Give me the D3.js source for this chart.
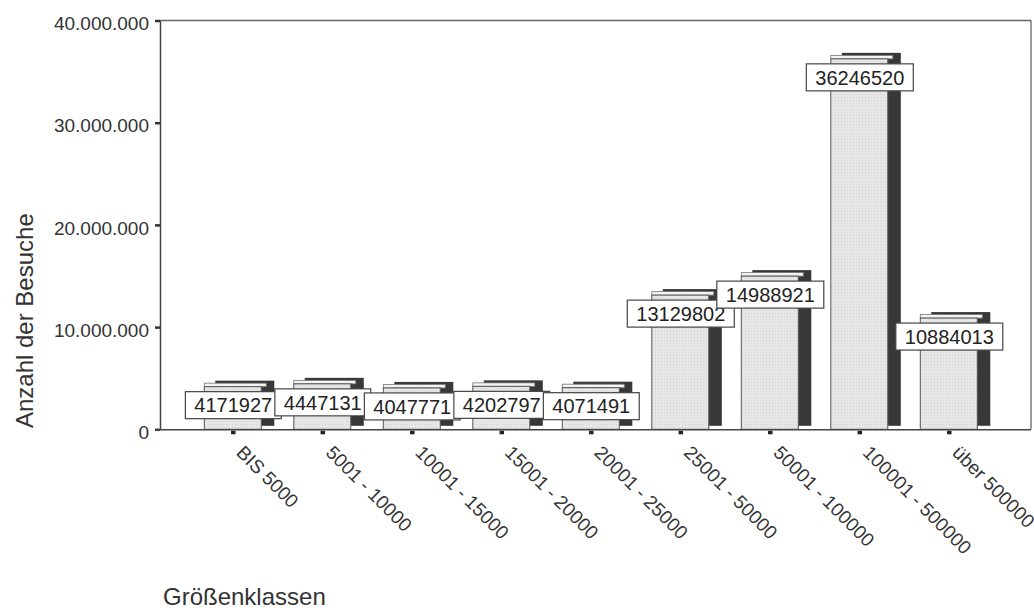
<!DOCTYPE html>
<html>
<head>
<meta charset="utf-8">
<script src="https://cdn.jsdelivr.net/npm/d3@7"></script>
<style>
  html, body { margin: 0; padding: 0; background: #ffffff; }
  svg { display: block; font-family: "Liberation Sans", Arial, Helvetica, sans-serif; }
</style>
</head>
<body>
<svg id="chart" width="1034" height="611"></svg>
<script>
const categories = ["BIS 5000", "5001 - 10000", "10001 - 15000", "15001 - 20000", "20001 - 25000",
                    "25001 - 50000", "50001 - 100000", "100001 - 500000", "über 500000"];
const values = [4171927, 4447131, 4047771, 4202797, 4071491, 13129802, 14988921, 36246520, 10884013];
const yTickValues = [0, 10000000, 20000000, 30000000, 40000000];
const yTitle = "Anzahl der Besuche";
const xTitle = "Größenklassen";

const svg = d3.select("#chart");
const plot = { left: 160, right: 1031, top: 20.5, bottom: 429.3 };

const x = d3.scaleBand().domain(categories).range([188.55, 994.05]).padding(0);
const y = d3.scaleLinear().domain([0, 40000000]).range([plot.bottom, plot.top]);
const de = d3.formatLocale({ decimal: ",", thousands: ".", grouping: [3], currency: ["", "€"] });
const fmt = de.format(",d");

// pattern for the light front faces
const defs = svg.append("defs");
const pat = defs.append("pattern").attr("id", "dots").attr("patternUnits", "userSpaceOnUse")
  .attr("width", 3).attr("height", 3);
pat.append("rect").attr("width", 3).attr("height", 3).attr("fill", "#e6e6e6");
pat.append("rect").attr("x", 1).attr("y", 1).attr("width", 1).attr("height", 1).attr("fill", "#d4d4d4");

// frame (top & right)
svg.append("line").attr("x1", plot.left).attr("x2", plot.right).attr("y1", plot.top).attr("y2", plot.top)
  .attr("stroke", "#666").attr("stroke-width", 1.3);
svg.append("line").attr("x1", plot.right).attr("x2", plot.right).attr("y1", plot.top).attr("y2", plot.bottom)
  .attr("stroke", "#666").attr("stroke-width", 1.3);

const cx = d => x(d) + x.bandwidth() / 2;
const faceW = 57;

// bars
const bars = svg.append("g").selectAll("g").data(values).join("g");
// dark depth/shadow
bars.append("rect")
  .attr("x", (d, i) => cx(categories[i]) - 18)
  .attr("y", d => y(d) - 6)
  .attr("width", 59)
  .attr("height", d => plot.bottom - 3.5 - (y(d) - 6))
  .attr("fill", "#383838");
// light top strip
bars.append("rect")
  .attr("x", (d, i) => cx(categories[i]) - 29)
  .attr("y", d => y(d) - 3.5)
  .attr("width", 62)
  .attr("height", 3.5)
  .attr("fill", "#f4f4f4")
  .attr("stroke", "#777").attr("stroke-width", 0.8);
// front face
bars.append("rect")
  .attr("x", (d, i) => cx(categories[i]) - 29)
  .attr("y", d => y(d))
  .attr("width", faceW)
  .attr("height", d => plot.bottom - y(d))
  .attr("fill", "url(#dots)")
  .attr("stroke", "#555").attr("stroke-width", 1);

// y axis
const yAxis = svg.append("g").attr("transform", `translate(${plot.left},0)`)
  .call(d3.axisLeft(y).tickValues(yTickValues).tickFormat(fmt).tickSizeInner(5).tickSizeOuter(0).tickPadding(6));
yAxis.select(".domain").attr("stroke", "#444").attr("stroke-width", 1.5);
yAxis.selectAll(".tick line").attr("stroke", "#333").attr("stroke-width", 2.5);
yAxis.selectAll(".tick text").attr("font-size", 19).attr("fill", "#333").attr("dy", "0.48em")
  .attr("font-family", "'Liberation Sans', Arial, sans-serif");

// x axis
const xAxis = svg.append("g").attr("transform", `translate(0,${plot.bottom})`)
  .call(d3.axisBottom(x).tickSizeInner(5).tickSizeOuter(0).tickPadding(0));
xAxis.select(".domain").attr("d", `M${plot.left - 4},0.5H${plot.right}`).attr("stroke", "#444").attr("stroke-width", 1.5);
xAxis.selectAll(".tick line").attr("y1", 1.5).attr("y2", 5).attr("stroke", "#222").attr("stroke-width", 4.5);
xAxis.selectAll(".tick text")
  .attr("font-size", 19).attr("fill", "#333").attr("font-family", "'Liberation Sans', Arial, sans-serif")
  .attr("text-anchor", "start").attr("x", 0).attr("y", 0).attr("dy", 0)
  .attr("transform", "translate(2,24.5) rotate(45)");

// value label boxes
const labels = svg.append("g").selectAll("g").data(values).join("g");
labels.each(function(d, i) {
  const g = d3.select(this);
  const rect = g.append("rect");
  const t = g.append("text")
    .attr("x", cx(categories[i]))
    .attr("y", y(d) + 5 + 13.5)
    .attr("dy", "0.36em")
    .attr("text-anchor", "middle")
    .attr("font-size", 20)
    .attr("fill", "#222")
    .text(d);
  const w = t.node().getComputedTextLength() + 18;
  rect.attr("x", cx(categories[i]) - w / 2)
    .attr("y", y(d) + 5)
    .attr("width", w)
    .attr("height", 27)
    .attr("fill", "#fff")
    .attr("stroke", "#444").attr("stroke-width", 1.2);
});

// titles
svg.append("text")
  .attr("transform", `translate(33,${(plot.bottom + 212) / 2}) rotate(-90)`)
  .attr("text-anchor", "middle")
  .attr("font-size", 24).attr("fill", "#333")
  .text(yTitle);
svg.append("text")
  .attr("x", 163).attr("y", 605)
  .attr("font-size", 24).attr("fill", "#333")
  .text(xTitle);
</script>
</body>
</html>
